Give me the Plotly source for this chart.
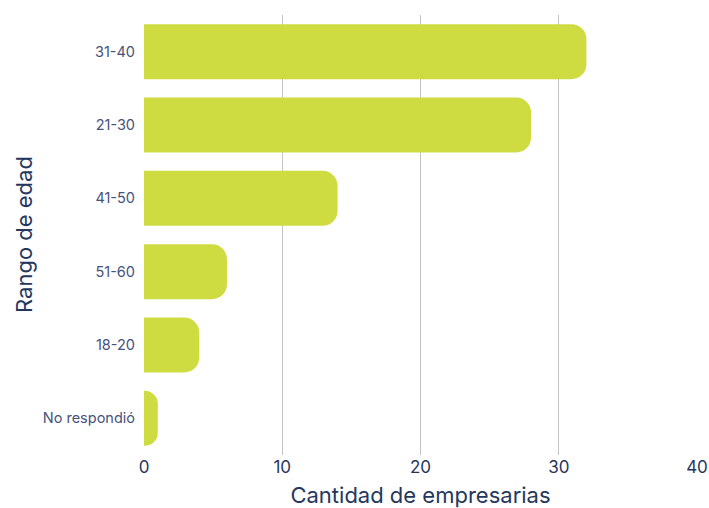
import plotly.graph_objects as go

# Age ranges of the surveyed entrepreneurs and how many fall in each
rangos = ["31-40", "21-30", "41-50", "51-60", "18-20", "No respondió"]
cantidades = [32, 28, 14, 6, 4, 1]
x_ticks = [0, 10, 20, 30, 40]

navy = "#26375e"
tick_color = "#46527a"

W, H = 709, 508
M_L, M_R, M_T, M_B = 144, 12, 15, 53
plot_w = W - M_L - M_R

fig = go.Figure(
    go.Bar(
        x=cantidades,
        y=rangos,
        orientation="h",
        marker=dict(color="#cedc41", line=dict(width=0)),
        width=0.75,
        hoverinfo="x+y",
    )
)

fig.update_layout(
    width=W,
    height=H,
    margin=dict(l=M_L, r=M_R, t=M_T, b=M_B),
    paper_bgcolor="white",
    plot_bgcolor="white",
    barcornerradius=15,
    font=dict(family="Inter, Roboto, sans-serif", color=tick_color),
    showlegend=False,
    xaxis=dict(
        range=[0, 40],
        tickvals=x_ticks,
        automargin=False,
        showgrid=True,
        gridcolor="#c4c4c4",
        gridwidth=1,
        zeroline=False,
        showline=False,
        ticks="",
        tickfont=dict(size=17, color=navy),
        title=dict(text="Cantidad de empresarias", font=dict(size=22, color=navy)),
    ),
    yaxis=dict(
        categoryorder="array",
        categoryarray=rangos,
        autorange="reversed",
        automargin=False,
        showgrid=False,
        zeroline=False,
        showline=False,
        ticks="",
        ticklabelstandoff=8,
        tickfont=dict(size=14.5, color=tick_color),
    ),
    annotations=[
        dict(
            text="Rango de edad",
            textangle=-90,
            xref="paper",
            yref="paper",
            x=-(M_L - 24) / plot_w,
            y=0.5,
            xanchor="center",
            yanchor="middle",
            showarrow=False,
            font=dict(size=22, color=navy),
        )
    ],
)

fig.write_html("out.html")
